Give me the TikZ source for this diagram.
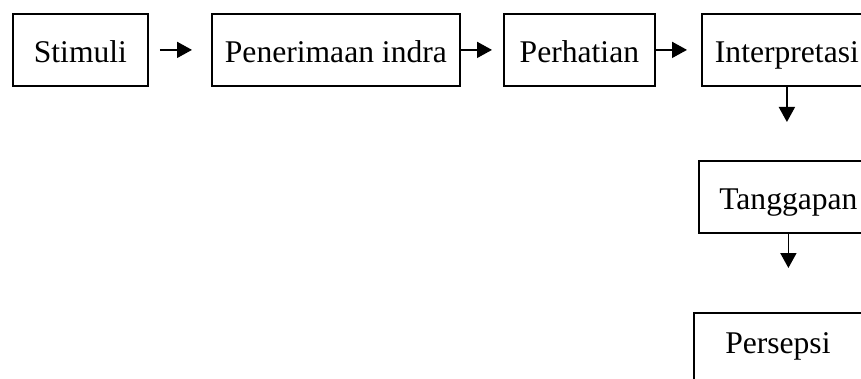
\documentclass[tikz,border=0pt]{standalone}
\usepackage{fontspec}
\setmainfont{Liberation Serif}
\usetikzlibrary{arrows.meta}
\tikzset{kotak/.style={draw, line width=0.9pt, anchor=north west, minimum height=36pt, inner sep=0pt, text height=16pt, text depth=3pt, font=\fontsize{15.8}{18}\selectfont},
panah/.style={line width=0.9pt, -{Triangle[length=7.5pt,width=8pt]}}}

\begin{document}
\begin{tikzpicture}[x=0.5pt,y=-0.5pt]
\useasboundingbox (0,0) rectangle (861,379);
\clip (0,0) rectangle (861,379);

\node[kotak, minimum width=67.5pt] (stimuli) at (12,13) {Stimuli};
\node[kotak, minimum width=124pt] (indra) at (211,13) {Penerimaan indra};
\node[kotak, minimum width=75.5pt] (perhatian) at (503,13) {Perhatian};
\node[kotak, minimum width=85pt] (interpretasi) at (701,13) {Interpretasi};
\node[kotak, minimum width=89.5pt] (tanggapan) at (698,160) {Tanggapan};
\node[kotak, minimum width=84pt, text depth=11pt] (persepsi) at (693,312) {Persepsi};

\draw[panah, shorten <=5.5pt, shorten >=9.5pt] (stimuli.east) -- (indra.west);
\draw[panah, shorten >=5.5pt] (indra.east) -- (perhatian.west);
\draw[panah, shorten >=7pt] (perhatian.east) -- (interpretasi.west);
\draw[panah, shorten >=19pt] (interpretasi.south) -- (interpretasi.south |- tanggapan.north);
\draw[panah, shorten >=22pt] (tanggapan.south) -- (tanggapan.south |- persepsi.north);
\end{tikzpicture}
\end{document}
